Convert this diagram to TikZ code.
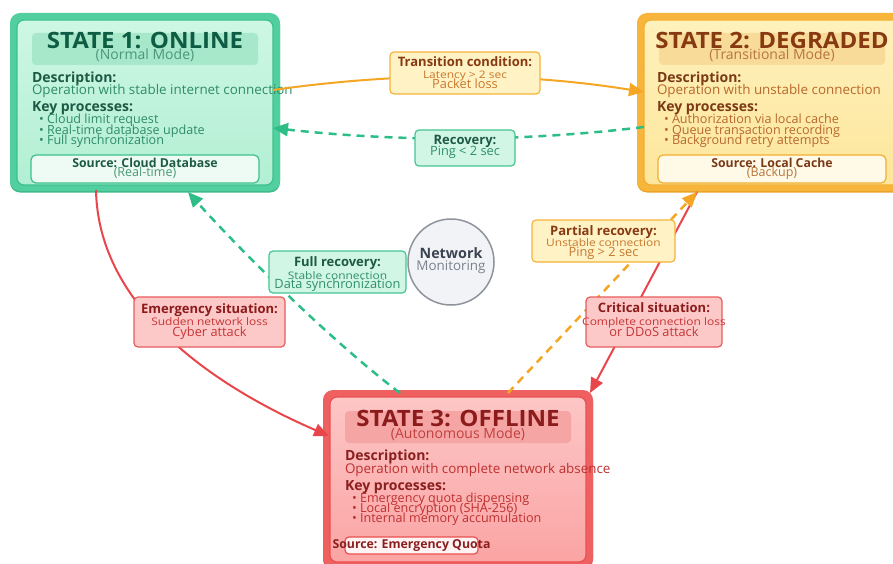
\documentclass[tikz,border=0pt]{standalone}
\usepackage{fontspec}
\setmainfont{Open Sans}
\newfontfamily\titlefont{Open Sans}[FakeStretch=1.07]
\newfontfamily\widefont{Open Sans}[FakeStretch=1.15]
\usetikzlibrary{arrows.meta,calc}
% green
\definecolor{gband}{HTML}{52CF9E}
\definecolor{gshadow}{HTML}{3DB987}
\definecolor{gline}{HTML}{3CC08D}
\definecolor{gtop}{HTML}{CDF7E4}
\definecolor{gbot}{HTML}{B2EFD2}
\definecolor{gtitle}{HTML}{A7E7CA}
\definecolor{gdark}{HTML}{0E5C43}
\definecolor{ghead}{HTML}{1D5A46}
\definecolor{gtext}{HTML}{2F8C68}
\definecolor{gsub}{HTML}{4A9878}
\definecolor{gsrc}{HTML}{EDFBF4}
% orange
\definecolor{oband}{HTML}{F7B53C}
\definecolor{oshadow}{HTML}{E9A22A}
\definecolor{oline}{HTML}{F2AE30}
\definecolor{otop}{HTML}{FFF1BC}
\definecolor{obot}{HTML}{FDE69C}
\definecolor{otitle}{HTML}{F8DB98}
\definecolor{odark}{HTML}{873A12}
\definecolor{ohead}{HTML}{7A3A16}
\definecolor{otext}{HTML}{B8682C}
\definecolor{osub}{HTML}{B8753A}
\definecolor{osrc}{HTML}{FFF9E8}
% red
\definecolor{rband}{HTML}{EF6060}
\definecolor{rshadow}{HTML}{DE4A4A}
\definecolor{rline}{HTML}{EA5050}
\definecolor{rtop}{HTML}{FDC6C6}
\definecolor{rbot}{HTML}{FBA4A4}
\definecolor{rtitle}{HTML}{F6A5A5}
\definecolor{rdark}{HTML}{8C1B1B}
\definecolor{rhead}{HTML}{8A1F1F}
\definecolor{rtext}{HTML}{BE3030}
\definecolor{rsub}{HTML}{C04040}
\definecolor{rsrc}{HTML}{FFF3F3}
% edges and labels
\definecolor{eorange}{HTML}{F5A623}
\definecolor{egreen}{HTML}{2DBE88}
\definecolor{ered}{HTML}{E8464B}
\definecolor{lofill}{HTML}{FFF2C4}
\definecolor{loline}{HTML}{F4B43A}
\definecolor{lotext}{HTML}{C8782E}
\definecolor{lgfill}{HTML}{D2F6E5}
\definecolor{lgline}{HTML}{45C493}
\definecolor{lgtext}{HTML}{2E8F6A}
\definecolor{lrfill}{HTML}{FCC8C8}
\definecolor{lrline}{HTML}{E85B5B}
\definecolor{lrtext}{HTML}{C73535}
\definecolor{netfill}{HTML}{F1F3F6}
\definecolor{netline}{HTML}{8E939C}
\definecolor{netdark}{HTML}{3B4350}
\definecolor{netlight}{HTML}{7C828C}
% fonts
\newcommand\fTitle{\titlefont\bfseries\fontsize{22.5}{24}\selectfont}
\newcommand\fSub{\fontsize{14}{15}\selectfont}
\newcommand\fHead{\bfseries\fontsize{14}{15}\selectfont}
\newcommand\fDesc{\fontsize{13.4}{14}\selectfont}
\newcommand\fBul{\fontsize{12.6}{13}\selectfont}
\newcommand\fSrc{\bfseries\fontsize{12.3}{13}\selectfont}
\newcommand\fSrcSub{\fontsize{12.5}{13}\selectfont}
\newcommand\fLhead{\bfseries\fontsize{13}{14}\selectfont}
\newcommand\fLsmall{\widefont\fontsize{10.4}{11}\selectfont}
\newcommand\fLbig{\fontsize{12.8}{13}\selectfont}
\begin{document}
\begin{tikzpicture}[x=1pt,y=-1pt,
  outerbox/.style={rounded corners=10pt, minimum width=270pt, minimum height=178pt, inner sep=0pt, outer sep=0pt},
  innerbox/.style={rounded corners=7pt, minimum width=256pt, minimum height=165pt, inner sep=0pt, outer sep=0pt, line width=1.2pt},
  titleband/.style={rounded corners=4pt, minimum width=226pt, minimum height=32pt, inner sep=0pt},
  srcbox/.style={rounded corners=5pt, minimum width=228pt, minimum height=28pt, inner sep=0pt, line width=1.2pt},
  txt/.style={inner sep=0pt, outer sep=0pt},
  tb/.style={txt, anchor=base},
  tw/.style={txt, anchor=base west},
  lbl/.style={rounded corners=4pt, inner sep=0pt, line width=1.2pt},
  tipstyle/.style={-{Triangle[length=15pt,width=13pt]}},
  solidedge/.style={line width=2pt, tipstyle},
  dashedge/.style={line width=2.5pt, dash pattern=on 8pt off 6pt, tipstyle}
]
\useasboundingbox (0,0) rectangle (893,564);
\clip (0,0) rectangle (893,564);

% ---------- STATE 1 ----------
\begin{scope}[shift={(10,13)}]
\node[outerbox, fill=gshadow] (s1sh) at (135,90.5) {};
\node[outerbox, fill=gband] (s1) at (135,89) {};
\node[innerbox, draw=gline, top color=gtop, bottom color=gbot] (s1in) at (135,89.5) {};
\node[titleband, fill=gtitle] (s1tb) at (135,36) {};
\node[tb, font=\fTitle, text=gdark] (s1t) at (135,35.5) {STATE 1: ONLINE};
\node[tb, font=\fSub, text=gsub] (s1m) at (135,47) {(Normal Mode)};
\node[tw, font=\fHead, text=ghead] (s1dh) at (22,70) {Description:};
\node[tw, font=\fDesc, text=gtext] (s1d) at (22,82) {Operation with stable internet connection};
\node[tw, font=\fHead, text=ghead] (s1kh) at (22,99) {Key processes:};
\node[tw, font=\fBul, text=gtext] (s1b1) at (29,111) {• Cloud limit request};
\node[tw, font=\fBul, text=gtext] (s1b2) at (29,122) {• Real-time database update};
\node[tw, font=\fBul, text=gtext] (s1b3) at (29,132) {• Full synchronization};
\node[srcbox, draw=gline, fill=gsrc] (s1src) at (135,156) {};
\node[tb, font=\fSrc, text=ghead] (s1s) at (135,154.7) {Source: Cloud Database};
\node[tb, font=\fSrcSub, text=gsub] (s1s2) at (135,163) {(Real-time)};
\end{scope}

% ---------- STATE 2 ----------
\begin{scope}[shift={(637,13)}]
\node[outerbox, fill=oshadow] (s2sh) at (135,90.5) {};
\node[outerbox, fill=oband] (s2) at (135,89) {};
\node[innerbox, draw=oline, top color=otop, bottom color=obot] (s2in) at (135,89.5) {};
\node[titleband, fill=otitle] (s2tb) at (135,36) {};
\node[tb, font=\fTitle, text=odark] (s2t) at (135,35.5) {STATE 2: DEGRADED};
\node[tb, font=\fSub, text=osub] (s2m) at (135,47) {(Transitional Mode)};
\node[tw, font=\fHead, text=ohead] (s2dh) at (20,70) {Description:};
\node[tw, font=\fDesc, text=otext] (s2d) at (20,82) {Operation with unstable connection};
\node[tw, font=\fHead, text=ohead] (s2kh) at (20,99) {Key processes:};
\node[tw, font=\fBul, text=otext] (s2b1) at (27,111) {• Authorization via local cache};
\node[tw, font=\fBul, text=otext] (s2b2) at (27,122) {• Queue transaction recording};
\node[tw, font=\fBul, text=otext] (s2b3) at (27,132) {• Background retry attempts};
\node[srcbox, draw=oline, fill=osrc] (s2src) at (135,156) {};
\node[tb, font=\fSrc, text=ohead] (s2s) at (135,154.7) {Source: Local Cache};
\node[tb, font=\fSrcSub, text=osub] (s2s2) at (135,163) {(Backup)};
\end{scope}

% ---------- STATE 3 ----------
\begin{scope}[shift={(323,390)}]
\node[outerbox, fill=rshadow] (s3sh) at (135,90.5) {};
\node[outerbox, fill=rband] (s3) at (135,89) {};
\node[innerbox, draw=rline, top color=rtop, bottom color=rbot] (s3in) at (135,89.5) {};
\node[titleband, fill=rtitle] (s3tb) at (135,37) {};
\node[tb, font=\fTitle, text=rdark] (s3t) at (135,36.5) {STATE 3: OFFLINE};
\node[tb, font=\fSub, text=rsub] (s3m) at (135,48) {(Autonomous Mode)};
\node[tw, font=\fHead, text=rhead] (s3dh) at (22,70) {Description:};
\node[tw, font=\fDesc, text=rtext] (s3d) at (22,83) {Operation with complete network absence};
\node[tw, font=\fHead, text=rhead] (s3kh) at (22,100) {Key processes:};
\node[tw, font=\fBul, text=rtext] (s3b1) at (29,112) {• Emergency quota dispensing};
\node[tw, font=\fBul, text=rtext] (s3b2) at (29,122.5) {• Local encryption (SHA-256)};
\node[tw, font=\fBul, text=rtext] (s3b3) at (29,132.5) {• Internal memory accumulation};
\node[lbl, draw=rline, fill=rsrc, minimum width=133pt, minimum height=17pt] (s3src) at (88.5,155.5) {};
\node[tb, font=\fSrc, text=rhead] (s3s) at (88.5,158) {Source: Emergency Quota};
\end{scope}

% ---------- connectors ----------
\draw[solidedge, draw=eorange]
  ($(s1in.north east)+(0,70)$) .. controls (400,72) and (520,72) .. ($(s2in.north west)+(0,72)$);
\draw[dashedge, draw=egreen]
  ($(s2in.north west)+(0,107)$) .. controls (520,142) and (400,142) .. ($(s1in.north east)+(0,108)$);
\draw[solidedge, draw=ered]
  ($(s1.south west)+(86,-1)$) .. controls (98,300) and (200,380) .. ($(s3in.north west)+(-1,39)$);
\draw[dashedge, draw=egreen]
  ($(s3.north west)+(77,3)$) .. controls (330,340) and (240,250) .. ($(s1.south west)+(178,1)$);
\draw[solidedge, draw=ered]
  ($(s2.south west)+(60,1)$) -- ($(s3.north east)+(-3,3)$);
\draw[dashedge, draw=eorange]
  ($(s3.north west)+(185,3)$) -- ($(s2.south west)+(60,1)$);

% ---------- labels ----------
\node[lbl, fill=lofill, draw=loline, minimum width=150pt, minimum height=42pt] (l1) at (465,73) {};
\node[tb, font=\fLhead, text=odark] (l1a) at (465,67) {Transition condition:};
\node[tb, font=\fLsmall, text=lotext] (l1b) at (465,78.3) {Latency > 2 sec};
\node[tb, font=\fLbig, text=lotext] (l1c) at (465,88.3) {Packet loss};

\node[lbl, fill=lgfill, draw=lgline, minimum width=100pt, minimum height=36pt] (l2) at (465,148) {};
\node[tb, font=\fLhead, text=ghead] (l2a) at (465,145) {Recovery:};
\node[tb, font=\fLbig, text=lgtext] (l2b) at (465,156) {Ping < 2 sec};

\node[lbl, fill=lrfill, draw=lrline, minimum width=151pt, minimum height=50pt] (l3) at (209.5,322) {};
\node[tb, font=\fLhead, text=rdark] (l3a) at (209.5,313) {Emergency situation:};
\node[tb, font=\fLsmall, text=lrtext] (l3b) at (209.5,325) {Sudden network loss};
\node[tb, font=\fLbig, text=lrtext] (l3c) at (209.5,336.7) {Cyber attack};

\node[lbl, fill=lgfill, draw=lgline, minimum width=137pt, minimum height=42pt] (l4) at (337.5,272) {};
\node[tb, font=\fLhead, text=ghead] (l4a) at (337.5,266.7) {Full recovery:};
\node[tb, font=\fLsmall, text=lgtext] (l4b) at (337.5,279) {Stable connection};
\node[tb, font=\fLbig, text=lgtext] (l4c) at (337.5,288.3) {Data synchronization};

\node[lbl, fill=lofill, draw=loline, minimum width=143pt, minimum height=42pt] (l5) at (603.5,241) {};
\node[tb, font=\fLhead, text=odark] (l5a) at (603.5,235) {Partial recovery:};
\node[tb, font=\fLsmall, text=lotext] (l5b) at (603.5,246.7) {Unstable connection};
\node[tb, font=\fLbig, text=lotext] (l5c) at (603.5,256.7) {Ping > 2 sec};

\node[lbl, fill=lrfill, draw=lrline, minimum width=136pt, minimum height=50pt] (l6) at (654,322) {};
\node[tb, font=\fLhead, text=rdark] (l6a) at (654,312.7) {Critical situation:};
\node[tb, font=\fLsmall, text=lrtext] (l6b) at (654,325) {Complete connection loss};
\node[tb, font=\fLbig, text=lrtext] (l6c) at (654,336.7) {or DDoS attack};

% ---------- network monitoring ----------
\node[circle, minimum size=86pt, inner sep=0pt, fill=netfill, draw=netline, line width=1.5pt] (net) at (451,262) {};
\node[tb, font=\bfseries\fontsize{14.3}{15}\selectfont, text=netdark] (neta) at (451,258.3) {Network};
\node[tb, font=\fontsize{13.4}{14}\selectfont, text=netlight] (netb) at (451,270) {Monitoring};
\end{tikzpicture}
\end{document}
